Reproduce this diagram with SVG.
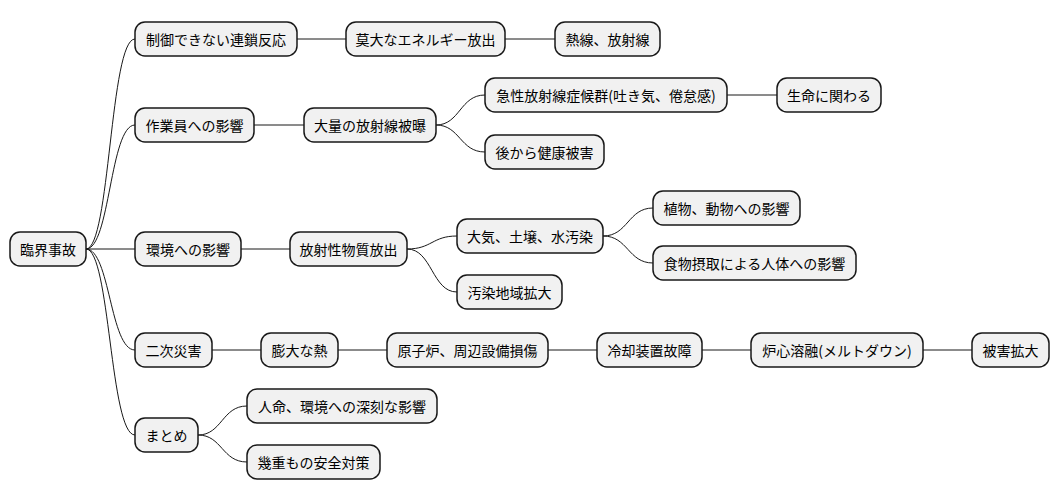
<svg xmlns="http://www.w3.org/2000/svg" width="1059" height="499" viewBox="0 0 1059 499">
<style>
.n rect{fill:#F1F1F1;stroke:#181818;stroke-width:1.5}
.n text{font-family:"Noto Sans CJK JP","Liberation Sans",sans-serif;font-size:14px;fill:#000;text-anchor:middle;dominant-baseline:central}
#c path{fill:none;stroke:#181818;stroke-width:1}
</style>
<rect width="1059" height="499" fill="#fff"/>
<g id="c">
<path d="M86,249 C110,249 110,39 135,39"/>
<path d="M86,249 C110,249 110,125 135,125"/>
<path d="M86,249 L135,249"/>
<path d="M86,249 C110,249 110,350 135,350"/>
<path d="M86,249 C110,249 110,435 135,435"/>
<path d="M297,39 L346,39"/>
<path d="M505,39 L555,39"/>
<path d="M254,125 L304,125"/>
<path d="M436,125 C460,125 460,95 485,95"/>
<path d="M436,125 C460,125 460,152 485,152"/>
<path d="M727,95 L777,95"/>
<path d="M241,249 L290,249"/>
<path d="M407,249 C432,249 432,236 457,236"/>
<path d="M407,249 C432,249 432,292 457,292"/>
<path d="M603,236 C628,236 628,208 653,208"/>
<path d="M603,236 C628,236 628,263 653,263"/>
<path d="M212,350 L261,350"/>
<path d="M338,350 L387,350"/>
<path d="M548,350 L597,350"/>
<path d="M702,350 L751,350"/>
<path d="M923,350 L972,350"/>
<path d="M198,435 C222,435 222,406 247,406"/>
<path d="M198,435 C222,435 222,462 247,462"/>
</g>
<g id="n1" class="n"><rect x="10" y="232" width="76" height="34" rx="10"/><text x="48" y="249">臨界事故</text></g>
<g id="n2" class="n"><rect x="135" y="22" width="162" height="34" rx="10"/><text x="216" y="39">制御できない連鎖反応</text></g>
<g id="n3" class="n"><rect x="346" y="22" width="159" height="34" rx="10"/><text x="425.5" y="39">莫大なエネルギー放出</text></g>
<g id="n4" class="n"><rect x="555" y="22" width="105" height="34" rx="10"/><text x="607.5" y="39">熱線、放射線</text></g>
<g id="n5" class="n"><rect x="135" y="108" width="119" height="34" rx="10"/><text x="194.5" y="125">作業員への影響</text></g>
<g id="n6" class="n"><rect x="304" y="108" width="132" height="34" rx="10"/><text x="370" y="125">大量の放射線被曝</text></g>
<g id="n7" class="n"><rect x="485" y="78" width="242" height="34" rx="10"/><text x="606" y="95">急性放射線症候群(吐き気、倦怠感)</text></g>
<g id="n8" class="n"><rect x="777" y="78" width="104" height="34" rx="10"/><text x="829" y="95">生命に関わる</text></g>
<g id="n9" class="n"><rect x="485" y="135" width="119" height="34" rx="10"/><text x="544.5" y="152">後から健康被害</text></g>
<g id="n10" class="n"><rect x="135" y="232" width="106" height="34" rx="10"/><text x="188" y="249">環境への影響</text></g>
<g id="n11" class="n"><rect x="290" y="232" width="117" height="34" rx="10"/><text x="348.5" y="249">放射性物質放出</text></g>
<g id="n12" class="n"><rect x="457" y="219" width="146" height="34" rx="10"/><text x="530" y="236">大気、土壌、水汚染</text></g>
<g id="n13" class="n"><rect x="653" y="191" width="147" height="34" rx="10"/><text x="726.5" y="208">植物、動物への影響</text></g>
<g id="n14" class="n"><rect x="653" y="246" width="203" height="34" rx="10"/><text x="754.5" y="263">食物摂取による人体への影響</text></g>
<g id="n15" class="n"><rect x="457" y="275" width="105" height="34" rx="10"/><text x="509.5" y="292">汚染地域拡大</text></g>
<g id="n16" class="n"><rect x="135" y="333" width="77" height="34" rx="10"/><text x="173.5" y="350">二次災害</text></g>
<g id="n17" class="n"><rect x="261" y="333" width="77" height="34" rx="10"/><text x="299.5" y="350">膨大な熱</text></g>
<g id="n18" class="n"><rect x="387" y="333" width="161" height="34" rx="10"/><text x="467.5" y="350">原子炉、周辺設備損傷</text></g>
<g id="n19" class="n"><rect x="597" y="333" width="105" height="34" rx="10"/><text x="649.5" y="350">冷却装置故障</text></g>
<g id="n20" class="n"><rect x="751" y="333" width="172" height="34" rx="10"/><text x="837" y="350">炉心溶融(メルトダウン)</text></g>
<g id="n21" class="n"><rect x="972" y="333" width="77" height="34" rx="10"/><text x="1010.5" y="350">被害拡大</text></g>
<g id="n22" class="n"><rect x="135" y="418" width="63" height="34" rx="10"/><text x="166.5" y="435">まとめ</text></g>
<g id="n23" class="n"><rect x="247" y="389" width="190" height="34" rx="10"/><text x="342" y="406">人命、環境への深刻な影響</text></g>
<g id="n24" class="n"><rect x="247" y="445" width="133" height="34" rx="10"/><text x="313.5" y="462">幾重もの安全対策</text></g>
</svg>
